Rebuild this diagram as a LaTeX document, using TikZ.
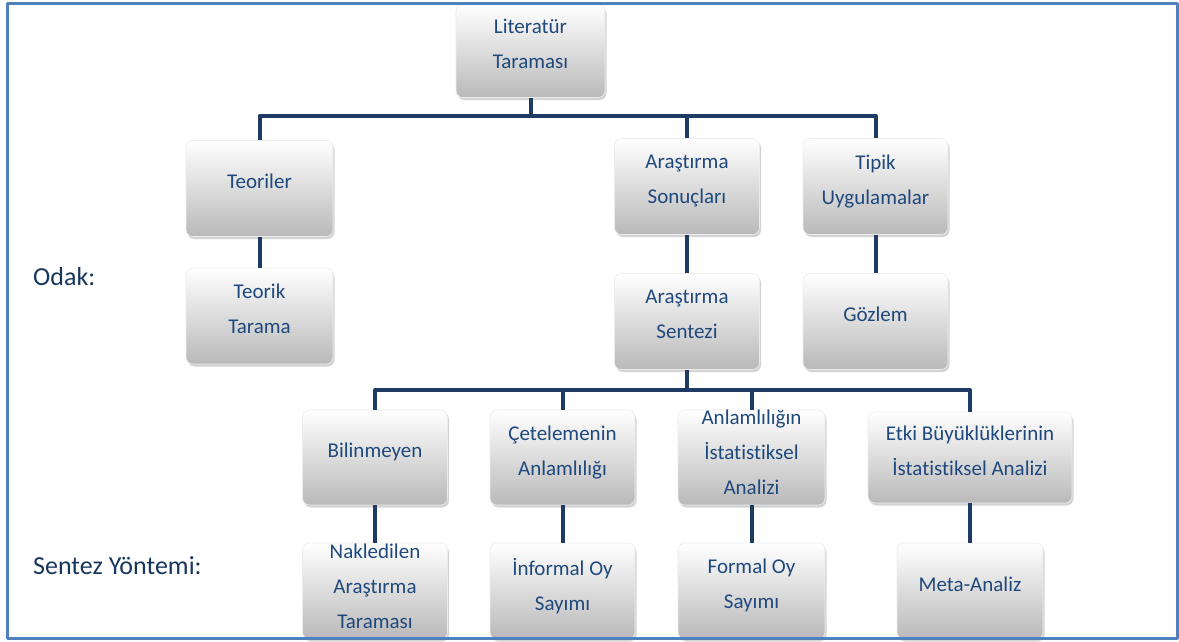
\documentclass[tikz,border=0pt]{standalone}
\usepackage{fontspec}
\setmainfont[Ligatures=NoCommon]{Carlito}
\usetikzlibrary{shadows,positioning}
\definecolor{lacivert}{HTML}{1F3B63}
\definecolor{yazi}{HTML}{1F497D}
\definecolor{cerceve}{HTML}{4F81BD}
\definecolor{etiketrenk}{HTML}{17365D}
\begin{document}
\begin{tikzpicture}[x=1pt,y=-1pt,line join=round,font=\fontsize{21}{35}\selectfont,
	kutu/.style={rounded corners=7pt,top color=white,bottom color=gray!55,draw=gray!15,line width=0.6pt,
		drop shadow={shadow xshift=1.5pt,shadow yshift=-2.5pt,opacity=0.35},
		minimum width=145pt,minimum height=96pt,inner sep=0pt,text depth=14pt,align=center,text=yazi},
	ucsatir/.style={text depth=10pt},
	bag/.style={draw=lacivert,line width=4pt},
	etiket/.style={anchor=west,text=etiketrenk,font=\fontsize{26}{30}\selectfont,inner sep=0pt}]
	\useasboundingbox (0,0) rectangle (1179,641);
	% ust kisim
	\node[kutu,minimum width=149pt,minimum height=93pt] (lit) at (530.5,51) {Literatür\\Taraması};
	\node[kutu,minimum width=147pt] (teo) at (259.5,188.5) {Teoriler};
	\node[kutu,minimum width=147pt] (teotar) at (259.5,316) {Teorik\\Tarama};
	\node[kutu] (sonuc) at (687,186.5) {Araştırma\\Sonuçları};
	\node[kutu] (tipik) at (875.5,186.5) {Tipik\\Uygulamalar};
	\node[kutu] (sentez) at (687,321.5) {Araştırma\\Sentezi};
	\node[kutu] (gozlem) at (875.5,321.5) {Gözlem};
	% alt kisim
	\node[kutu,minimum height=95pt] (bilin) at (375,457.5) {Bilinmeyen};
	\node[kutu,minimum height=95pt] (cetele) at (562.5,457.5) {Çetelemenin\\Anlamlılığı};
	\node[kutu,ucsatir,minimum width=147pt,minimum height=95pt] (anlam) at (751.5,457.5) {Anlamlılığın\\İstatistiksel\\Analizi};
	\node[kutu,minimum width=204pt,minimum height=91pt] (etki) at (970,457.5) {Etki Büyüklüklerinin\\İstatistiksel Analizi};
	\node[kutu,ucsatir] (nakl) at (375,591) {Nakledilen\\Araştırma\\Taraması};
	\node[kutu] (inf) at (562.5,591) {İnformal Oy\\Sayımı};
	\node[kutu,minimum width=147pt] (formal) at (751.5,591) {Formal Oy\\Sayımı};
	\node[kutu,minimum width=146pt] (meta) at (970,591) {Meta-Analiz};
	% etiketler
	\node[etiket] (odak) at (33,277) {Odak:};
	\node[etiket] (yontem) at (33,566) {Sentez Yöntemi:};
	% baglantilar
	\coordinate (ust) at (530.5,116);
	\coordinate (alt) at (687,390);
	\draw[bag] (lit.south) -- (ust);
	\draw[bag] (teo.north) |- (ust) -| (tipik.north);
	\draw[bag] (sonuc.north) -- (sonuc.north |- ust);
	\draw[bag] (sentez.south) -- (alt);
	\draw[bag] (bilin.north) |- (alt) -| (etki.north);
	\foreach \n in {cetele,anlam}{\draw[bag] (\n.north) -- (\n.north |- alt);}
	\foreach \a/\b in {teo/teotar,sonuc/sentez,tipik/gozlem,bilin/nakl,cetele/inf,anlam/formal,etki/meta}{\draw[bag] (\a.south) -- (\b.north);}
	% cerceve
	\draw[cerceve,line width=3pt] (7.5,3.5) rectangle (1177.5,638.5);
\end{tikzpicture}
\end{document}
